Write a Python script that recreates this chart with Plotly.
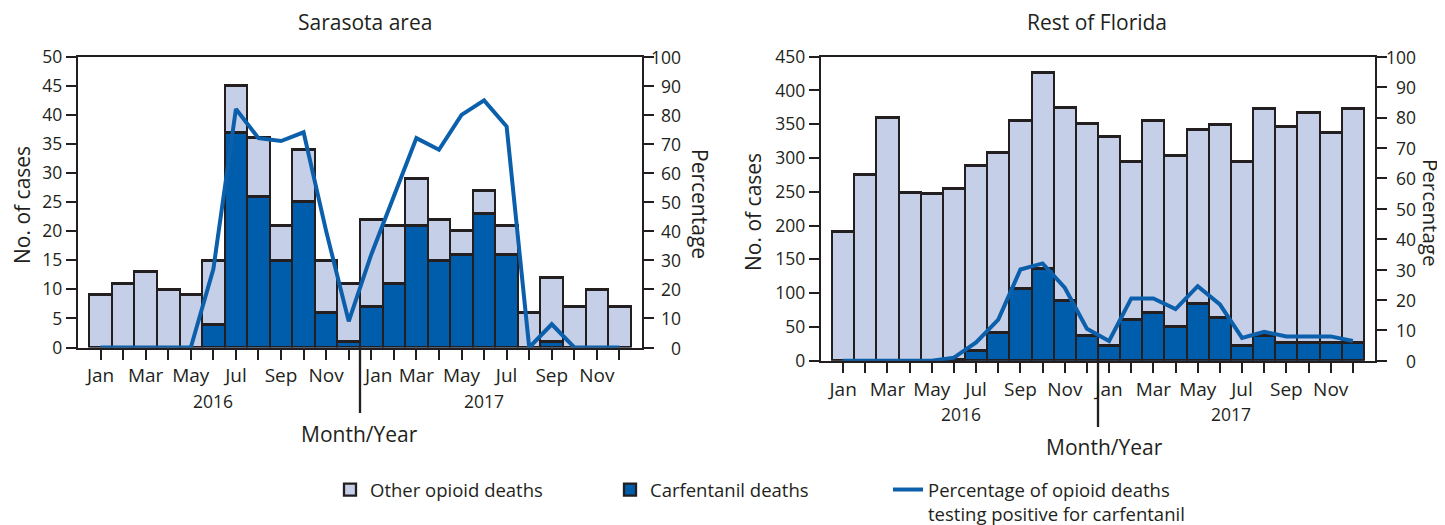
import plotly.graph_objects as go

# Browser page offsets the plot by the default 8px body margin; compensate.
VIEW_W, VIEW_H = 1445, 525
OFF = 8
W, H = VIEW_W - OFF, VIEW_H - OFF

month_names = ["Jan", "Feb", "Mar", "Apr", "May", "Jun", "Jul", "Aug", "Sep", "Oct", "Nov", "Dec"]
years = ["2016", "2017"]
periods = [f"{m} {y}" for y in years for m in month_names]
xi = list(range(len(periods)))

# Sarasota area
sar_carf = [0, 0, 0, 0, 0, 4, 37, 26, 15, 25, 6, 1, 7, 11, 21, 15, 16, 23, 16, 0, 1, 0, 0, 0]
sar_other = [9, 11, 13, 10, 9, 11, 8, 10, 6, 9, 9, 10, 15, 10, 8, 7, 4, 4, 5, 6, 11, 7, 10, 7]
sar_pct = [0, 0, 0, 0, 0, 27, 82, 72, 71, 74, 40, 9, 32, 52, 72, 68, 80, 85, 76, 0, 8, 0, 0, 0]

# Rest of Florida
fl_carf = [0, 0, 0, 0, 0, 2, 15, 41, 107, 136, 89, 37, 22, 60, 71, 51, 85, 64, 22, 37, 27, 27, 27, 26]
fl_other = [191, 276, 360, 249, 247, 253, 273, 267, 248, 290, 286, 314, 310, 234, 285, 252, 257, 286, 272, 336, 320, 340, 311, 347]
fl_pct = [0, 0, 0, 0, 0, 1, 6, 13.5, 30, 32, 24, 10.5, 6.5, 20.5, 20.5, 17, 24.5, 18.5, 7.5, 9.5, 8, 8, 8, 6.5]

pct_ticks = list(range(0, 101, 10))

LIGHT = "#c5cfe8"
DARK = "#005dab"
LINE = "#0c60ab"
INK = "#231f20"
FONT = "Open Sans"


def px(x):
    return (x - OFF) / W


def py(y):
    return 1 - (y - OFF) / H


def tick_text(shift_jan2017):
    out = []
    for i, p in enumerate(periods):
        m = p.split()[0]
        if i % 2 == 0:
            if shift_jan2017 and i == 12:
                out.append("\u00a0\u00a0\u00a0" + m)
            else:
                out.append(m)
        else:
            out.append("")
    return out


fig = go.Figure()

bar_line = dict(color=INK, width=2.3)

# Left panel
fig.add_trace(go.Bar(x=xi, y=sar_carf, name="Carfentanil deaths", marker=dict(color=DARK, line=bar_line),
                     xaxis="x", yaxis="y", legend="legend2", hoverinfo="y"))
fig.add_trace(go.Bar(x=xi, y=sar_other, name="Other opioid deaths", marker=dict(color=LIGHT, line=bar_line),
                     xaxis="x", yaxis="y", legend="legend", hoverinfo="y"))
fig.add_trace(go.Scatter(x=xi, y=sar_pct, mode="lines", line=dict(color=LINE, width=4),
                         name="Percentage of opioid deaths<br>testing positive for carfentanil",
                         xaxis="x", yaxis="y2", legend="legend3"))
# Right panel
fig.add_trace(go.Bar(x=xi, y=fl_carf, marker=dict(color=DARK, line=bar_line), showlegend=False,
                     xaxis="x2", yaxis="y3"))
fig.add_trace(go.Bar(x=xi, y=fl_other, marker=dict(color=LIGHT, line=bar_line), showlegend=False,
                     xaxis="x2", yaxis="y3"))
fig.add_trace(go.Scatter(x=xi, y=fl_pct, mode="lines", line=dict(color=LINE, width=4), showlegend=False,
                         xaxis="x2", yaxis="y4"))

L_x0, L_x1, L_top, L_bot = 78, 642, 56.7, 347.5
R_x0, R_x1, R_top, R_bot = 821, 1375, 56.7, 360.7

axis_common = dict(showline=True, linecolor=INK, linewidth=2.3, ticks="outside", ticklen=10, tickwidth=2.3,
                   tickcolor=INK, showgrid=False, zeroline=False, automargin=False)

xaxis_common = dict(axis_common, range=[-1, 24], tickvals=xi, mirror=True, tickangle=0,
                    tickfont=dict(family=FONT, size=19, color=INK))

leg_common = dict(orientation="h", xanchor="left", yanchor="top",
                  font=dict(family=FONT, size=18.5, color=INK), bgcolor="rgba(0,0,0,0)")

fig.update_layout(
    width=W, height=H, margin=dict(l=0, r=0, t=0, b=0, autoexpand=False),
    paper_bgcolor="white", plot_bgcolor="white",
    barmode="stack", bargap=0,
    font=dict(family=FONT, color=INK),
    xaxis=dict(xaxis_common, domain=[px(L_x0), px(L_x1)], anchor="y", ticktext=tick_text(True)),
    yaxis=dict(axis_common, domain=[py(L_bot), py(L_top)], range=[0, 50], dtick=5, anchor="x",
               tickfont=dict(family=FONT, size=17.5, color=INK)),
    yaxis2=dict(axis_common, overlaying="y", side="right", anchor="x", range=[0, 100], dtick=10,
                showticklabels=False),
    xaxis2=dict(xaxis_common, domain=[px(R_x0), px(R_x1)], anchor="y3", ticktext=tick_text(False)),
    yaxis3=dict(axis_common, domain=[py(R_bot), py(R_top)], range=[0, 450], dtick=50, anchor="x2",
                tickfont=dict(family=FONT, size=17.5, color=INK)),
    yaxis4=dict(axis_common, overlaying="y3", side="right", anchor="x2", range=[0, 100], dtick=10,
                showticklabels=False),
    legend=dict(leg_common, x=px(330), y=py(471)),
    legend2=dict(leg_common, x=px(610), y=py(471)),
    legend3=dict(leg_common, x=px(888), y=py(471), valign="top"),
)

ann = []
# Right-side percentage tick labels (right aligned like the original)
for v in pct_ticks:
    ann.append(dict(x=px(683), xref="paper", y=v, yref="y2", text=str(v), showarrow=False,
                    xanchor="right", yanchor="middle", font=dict(family=FONT, size=17.5, color=INK)))
    ann.append(dict(x=px(1418), xref="paper", y=v, yref="y4", text=str(v), showarrow=False,
                    xanchor="right", yanchor="middle", font=dict(family=FONT, size=17.5, color=INK)))

title_font = dict(family=FONT, size=21, color=INK)


def lab(x, y, text, angle=0, size=21):
    return dict(x=px(x), y=py(y), xref="paper", yref="paper", text=text, textangle=angle, showarrow=False,
                xanchor="center", yanchor="middle", borderpad=0, font=dict(title_font, size=size))


ann += [
    lab(365, 22, "Sarasota area"),
    lab(1097, 22, "Rest of Florida"),
    lab(22, 205, "No. of cases", -90),
    lab(700, 204, "Percentage", 90),
    lab(753, 212, "No. of cases", -90),
    lab(1431, 212, "Percentage", 90, 20.5),
    lab(359, 434, "Month/Year"),
    lab(1104, 447, "Month/Year"),
]
year_font = dict(family=FONT, size=17.5, color=INK)
for yr, xl, xr in [(years[0], 5, 5.3), (years[1], 17, 17.5)]:
    ann.append(dict(x=xl, xref="x", y=py(401), yref="paper", text=yr, showarrow=False, font=year_font,
                    yanchor="middle"))
    ann.append(dict(x=xr, xref="x2", y=py(414), yref="paper", text=yr, showarrow=False, font=year_font,
                    yanchor="middle"))
fig.update_layout(annotations=ann)

# Year separators between Dec 2016 and Jan 2017
sep = (xi[11] + xi[12]) / 2
fig.add_shape(type="line", xref="x", yref="paper", x0=sep, x1=sep, y0=py(L_bot), y1=py(413),
              line=dict(color=INK, width=2.3))
fig.add_shape(type="line", xref="x2", yref="paper", x0=sep, x1=sep, y0=py(R_bot), y1=py(427),
              line=dict(color=INK, width=2.3))

fig.write_html("out.html")
